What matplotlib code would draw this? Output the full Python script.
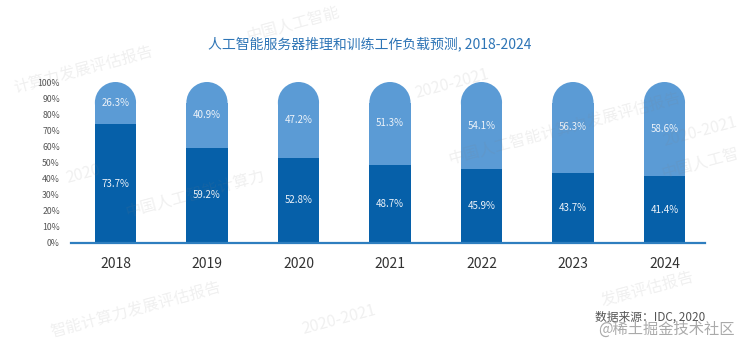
"""AI server inference vs. training workload forecast, 2018-2024."""

import matplotlib

matplotlib.use("Agg")
import matplotlib.pyplot as plt
from matplotlib.patches import Ellipse


years = ["2018", "2019", "2020", "2021", "2022", "2023", "2024"]
training = [73.7, 59.2, 52.8, 48.7, 45.9, 43.7, 41.4]
inference = [26.3, 40.9, 47.2, 51.3, 54.1, 56.3, 58.6]
y_ticks = list(range(0, 101, 10))

title = "人工智能服务器推理和训练工作负载预测, 2018-2024"
source = "数据来源：IDC, 2020"
site_mark = "@稀土掘金技术社区"
# faint report watermarks scattered over the picture
watermarks = [
    ("中国人工智能", 0.39, 0.93),
    ("计算力发展评估报告", 0.11, 0.80),
    ("2020-2021", 0.60, 0.76),
    ("中国人工智能计算力发展评估报告", 0.75, 0.63),
    ("2020-2021", 0.93, 0.62),
    ("中国人工智", 0.93, 0.53),
    ("2020", 0.11, 0.50),
    ("中国人工智能计算力", 0.26, 0.44),
    ("2020-2021", 0.45, 0.08),
    ("智能计算力发展评估报告", 0.18, 0.11),
    ("发展评估报告", 0.86, 0.17),
]

DARK = "#0660a9"
LIGHT = "#5b9bd5"
AXIS = "#2e7ebf"

plt.rcParams["font.family"] = ["Noto Sans CJK SC", "DejaVu Sans"]

fig = plt.figure(figsize=(7.53, 3.48), dpi=100)

ax = fig.add_axes([71 / 753, 105 / 348, 634 / 753, 161 / 348])
ax.patch.set_alpha(0)

x = list(range(len(years)))
width = 0.45
ax.set_xlim(-0.486, 6.443)
ax.set_ylim(0, 100)

# vertical size (in data units) of the round cap so it looks circular
px_x = ax.bbox.width / (ax.get_xlim()[1] - ax.get_xlim()[0])
px_y = ax.bbox.height / 100
ry = (width / 2) * px_x / px_y

ax.bar(x, training, width, color=DARK, zorder=2)
tops = [100 - ry - t for t in training]
ax.bar(x, tops, width, bottom=training, color=LIGHT, zorder=2)
for xi in x:
    ax.add_patch(Ellipse((xi, 100 - ry), width, 2 * ry, color=LIGHT,
                         lw=0, zorder=2))

for xi, t, i in zip(x, training, inference):
    ax.text(xi, t / 2, f"{t}%", ha="center", va="center", fontsize=7,
            color="#eef3f9", zorder=3)
    ax.text(xi, t + i / 2, f"{i}%", ha="center", va="center", fontsize=7,
            color="#eef3f9", zorder=3)

ax.set_xticks(x)
ax.set_xticklabels(years, fontsize=10, color="#333333")
ax.set_yticks(y_ticks)
ax.set_yticklabels([f"{v}%" for v in y_ticks], fontsize=6.3, color="#555555")
ax.tick_params(axis="x", length=0, pad=10)
ax.tick_params(axis="y", length=0, pad=8)
for side in ("top", "right", "left"):
    ax.spines[side].set_visible(False)
ax.spines["bottom"].set_color(AXIS)
ax.spines["bottom"].set_linewidth(1.6)
ax.spines["bottom"].set_zorder(4)

for text, fx, fy in watermarks:
    fig.text(fx, fy, text, fontsize=11.5, color="#808080", alpha=0.12,
             rotation=15, ha="center", va="center", zorder=5)

fig.text(370 / 753, 1 - 44 / 348, title, ha="center", va="center",
         fontsize=10, color="#2e75b6")
fig.text(595 / 753, 1 - 317 / 348, source, ha="left", va="center",
         fontsize=8.5, color="#555555")
fig.text(598 / 753, 1 - 329 / 348, site_mark, ha="left", va="center",
         fontsize=11, color="#aaaaaa")

fig.savefig("out.png", dpi=100)
plt.close(fig)
